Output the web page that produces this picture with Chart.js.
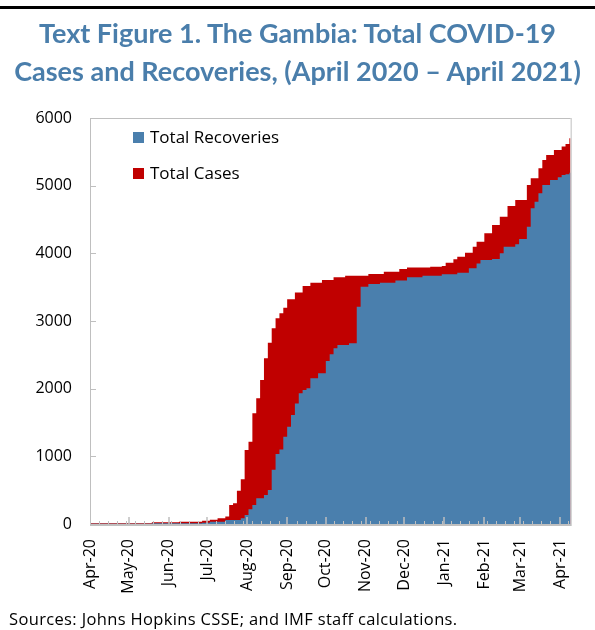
<!DOCTYPE html>
<html><head><meta charset="utf-8">
<script src="https://cdn.jsdelivr.net/npm/chart.js@4.4.1/dist/chart.umd.min.js"></script>
<style>
html,body{margin:0;padding:0;background:#fff;}
#wrap{position:relative;width:595px;height:630px;overflow:hidden;background:#fff;}
#rule{position:absolute;left:0;top:6px;width:595px;height:3px;background:#000;}
#title{position:absolute;left:0;top:14px;width:595px;text-align:center;font-family:Lato,sans-serif;font-weight:bold;font-size:27px;line-height:38px;color:#4a7eab;white-space:nowrap;}
#source{position:absolute;left:9px;top:609px;font-family:'Open Sans',sans-serif;font-size:16.5px;letter-spacing:0.35px;line-height:20px;color:#000;white-space:nowrap;}
canvas{position:absolute;left:0;top:0;}
</style></head><body>
<div id="wrap">
<canvas id="c" width="595" height="630"></canvas>
<div id="rule"></div>
<div id="title">Text Figure 1. The Gambia: Total COVID-19<br>Cases and Recoveries, (April 2020 – April 2021)</div>
<div id="source">Sources: Johns Hopkins CSSE; and IMF staff calculations.</div>
</div>
<script>
// Days since 1 April 2020
const days = [0,3,6,9,12,15,18,21,24,27,
30,33,36,39,42,45,48,51,54,57,
60,63,66,69,72,75,78,81,84,87,
90,93,96,99,102,105,108,111,114,117,
120,123,126,129,132,135,138,141,144,147,
150,153,156,159,162,165,168,171,174,177,
180,183,186,189,192,195,198,201,204,207,
210,213,216,219,222,225,228,231,234,237,
240,243,246,249,252,255,258,261,264,267,
270,273,276,279,282,285,288,291,294,297,
300,303,306,309,312,315,318,321,324,327,
330,333,336,339,342,345,348,351,354,357,
360,363,366,369,372,373];

const totalCases = [10,10,10,10,10,10,10,10,10,10,
10,10,10,10,10,10,25,25,25,25,
25,25,25,35,35,35,35,35,35,49,
49,64,64,84,84,110,280,305,492,660,
1094,1216,1636,1858,2128,2449,2680,2892,3040,3114,
3197,3320,3320,3420,3420,3517,3517,3567,3567,3567,
3606,3606,3606,3646,3646,3646,3670,3670,3670,3670,
3670,3670,3695,3695,3695,3695,3729,3729,3729,3729,
3770,3770,3789,3789,3789,3789,3789,3789,3803,3803,
3803,3813,3862,3862,3912,3951,3951,4010,4010,4099,
4172,4172,4296,4296,4419,4419,4542,4542,4700,4700,
4790,4790,4790,5010,5109,5109,5257,5380,5454,5454,
5528,5528,5577,5617,5700,5700];

const totalRecoveries = [2,2,2,2,2,2,2,2,2,2,
2,2,2,2,2,2,10,10,10,10,
10,10,10,10,10,10,10,10,10,20,
20,35,35,35,35,59,59,59,59,84,
133,217,281,380,380,429,503,800,1035,1100,
1290,1438,1611,1780,1931,1980,2005,2153,2153,2227,
2227,2410,2510,2597,2645,2645,2645,2670,2670,3212,
3507,3507,3545,3545,3545,3567,3567,3567,3567,3600,
3600,3600,3646,3646,3646,3646,3670,3670,3670,3670,
3670,3690,3690,3690,3690,3714,3714,3714,3779,3779,
3850,3900,3900,3900,3915,3915,4001,4099,4099,4099,
4135,4210,4210,4394,4666,4764,4888,5010,5010,5084,
5084,5124,5158,5170,5192,5192];

const monthTicks = [0,30,61,91,122,153,183,214,244,275,306,334,365];
const monthLabels = ['Apr-20','May-20','Jun-20','Jul-20','Aug-20','Sep-20','Oct-20','Nov-20','Dec-20','Jan-21','Feb-21','Mar-21','Apr-21'];
const yTicks = [0,1000,2000,3000,4000,5000,6000];

const BLUE = '#4a7fad';
const RED = '#c00000';
const AXIS = '#bfbfbf';

const decor = {
  id: 'decor',
  afterDatasetsDraw(chart) {
    const {ctx, chartArea: a, scales} = chart;
    const x = scales.x, y = scales.y;
    ctx.save();
    ctx.strokeStyle = AXIS;
    ctx.lineWidth = 1;
    ctx.beginPath();
    ctx.moveTo(a.left, a.top + 0.5); ctx.lineTo(a.right, a.top + 0.5);
    ctx.moveTo(a.right + 0.5, a.top); ctx.lineTo(a.right + 0.5, a.bottom);
    ctx.moveTo(a.left + 0.5, a.top); ctx.lineTo(a.left + 0.5, a.bottom);
    ctx.stroke();
    ctx.lineWidth = 2;
    ctx.beginPath();
    ctx.moveTo(a.left, a.bottom + 1); ctx.lineTo(a.right + 1, a.bottom + 1);
    ctx.stroke();
    // y inward ticks
    ctx.lineWidth = 1;
    ctx.beginPath();
    y.ticks.forEach(t => {
      if (t.value === 0) return;
      const py = Math.round(y.getPixelForValue(t.value)) + 0.5;
      ctx.moveTo(a.left, py); ctx.lineTo(a.left + 6, py);
    });
    ctx.stroke();
    // x major ticks
    ctx.lineWidth = 1.5;
    ctx.beginPath();
    monthTicks.forEach(v => {
      if (v === 0) return;
      const px = Math.round(x.getPixelForValue(v));
      ctx.moveTo(px, a.bottom); ctx.lineTo(px, a.bottom - 7);
    });
    ctx.stroke();
    // x minor (weekly) ticks
    ctx.lineWidth = 1;
    ctx.beginPath();
    for (let d = 7; d < x.max; d += 7) {
      if (monthTicks.some(m => Math.abs(m - d) < 2)) continue;
      const px = Math.round(x.getPixelForValue(d)) + 0.5;
      ctx.moveTo(px, a.bottom); ctx.lineTo(px, a.bottom - 3);
    }
    ctx.stroke();
    // legend
    const legendTop = [132, 168];
    ctx.font = '17px "Open Sans"';
    ctx.textBaseline = 'middle';
    ctx.textAlign = 'left';
    chart.data.datasets.forEach((ds, i) => {
      const by = legendTop[i];
      ctx.fillStyle = ds.backgroundColor;
      ctx.fillRect(133, by, 11, 11);
      ctx.fillStyle = '#000';
      ctx.fillText(ds.label, 150, by + 6);
    });
    ctx.restore();
  }
};

new Chart(document.getElementById('c'), {
  type: 'line',
  data: {
    datasets: [
      {
        label: 'Total Recoveries',
        data: days.map((d, i) => ({x: d, y: totalRecoveries[i]})),
        backgroundColor: BLUE,
        borderColor: 'rgba(0,0,0,0)',
        borderWidth: 0,
        fill: 'origin',
        stepped: true,
        pointRadius: 0,
        tension: 0
      },
      {
        label: 'Total Cases',
        data: days.map((d, i) => ({x: d, y: totalCases[i]})),
        backgroundColor: RED,
        borderColor: 'rgba(0,0,0,0)',
        borderWidth: 0,
        fill: 'origin',
        stepped: true,
        pointRadius: 0,
        tension: 0
      }
    ]
  },
  options: {
    responsive: false,
    animation: false,
    devicePixelRatio: 1,
    layout: {padding: {top: 118, right: 21, left: 0, bottom: 0}},
    plugins: {legend: {display: false}, tooltip: {enabled: false}},
    scales: {
      x: {
        type: 'linear',
        min: 0,
        max: 373,
        grid: {display: false, drawTicks: false},
        border: {display: false},
        afterBuildTicks: s => { s.ticks = monthTicks.map(v => ({value: v})); },
        afterFit: s => { s.height = 106; },
        ticks: {
          autoSkip: false,
          maxRotation: 90,
          minRotation: 90,
          padding: 15,
          color: '#000',
          font: {family: 'Open Sans', size: 16},
          callback: v => { const i = monthTicks.indexOf(v); return i >= 0 ? monthLabels[i] : ''; }
        }
      },
      y: {
        min: 0,
        max: 6000,
        grid: {display: false, drawTicks: false},
        border: {display: false},
        afterBuildTicks: s => { s.ticks = yTicks.map(v => ({value: v})); },
        afterFit: s => { s.width = 90; },
        ticks: {
          padding: 18,
          color: '#000',
          font: {family: 'Open Sans', size: 16},
          callback: v => String(v)
        }
      }
    }
  },
  plugins: [decor]
});
</script>
</body></html>
